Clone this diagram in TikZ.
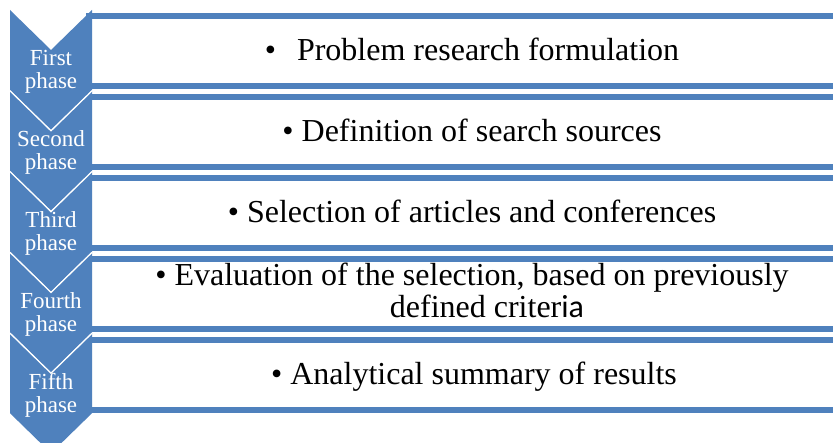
\documentclass[tikz,border=0pt]{standalone}
\usepackage{fontspec}
\setmainfont{Liberation Serif}
\newfontfamily\calibrifont{Carlito}
\definecolor{phaseblue}{HTML}{4F81BD}
\newcommand\stacklines[1]{\begin{tabular}[t]{@{}c@{}}#1\end{tabular}}
\begin{document}
\begin{tikzpicture}[x=1pt,y=-1pt,
  stagebox/.style={draw=phaseblue, line width=5.5pt, fill=white},
  chevron/.style={fill=phaseblue},
  seam/.style={draw=white, line width=1.3pt},
  phaselabel/.style={text=white, inner sep=0pt, anchor=base,
    font=\fontsize{23}{23}\selectfont},
  steptext/.style={text=black, inner sep=0pt, anchor=base,
    font=\fontsize{32}{31}\selectfont}]
\useasboundingbox (0,0) rectangle (833,443);
\clip (0,0) rectangle (833,443);

% step boxes (open to the right)
\foreach \k in {0,...,4} {
  \draw[stagebox] (89,{16+81*\k}) rectangle (880,{86+81*\k});
}

% phase chevrons
\foreach \k in {0,...,4} {
  \path[chevron] (10,{10+80.8*\k}) -- (51,{50+80.8*\k}) -- (92,{10+80.8*\k})
    -- (92,{90+80.8*\k}) -- (51,{130+80.8*\k}) -- (10,{90+80.8*\k}) -- cycle;
}
\foreach \k in {1,...,4} {
  \draw[seam] (10,{10+80.8*\k}) -- (51,{50+80.8*\k}) -- (92,{10+80.8*\k});
}

% phase names
\node[phaselabel] (p1) at (51,66) {\stacklines{First\\phase}};
\node[phaselabel] (p2) at (51,146.8) {\stacklines{Second\\phase}};
\node[phaselabel] (p3) at (51,227.6) {\stacklines{Third\\phase}};
\node[phaselabel] (p4) at (51,308.4) {\stacklines{Fourth\\phase}};
\node[phaselabel] (p5) at (51,389.2) {\stacklines{Fifth\\phase}};

% step descriptions
\node[steptext] (t1) at (472,61) {\textbullet\hspace{21pt}Problem research formulation};
\node[steptext] (t2) at (472,142) {\textbullet{} Definition of search sources};
\node[steptext] (t3) at (472,223) {\textbullet{} Selection of articles and conferences};
\node[steptext] (t4) at (472,286) {\stacklines{\textbullet{} Evaluation of the selection, based on previously\\
  \hspace*{30pt}defined criter{\calibrifont ia}}};
\node[steptext] (t5) at (474,385) {\textbullet{} Analytical summary of results};
\end{tikzpicture}
\end{document}
